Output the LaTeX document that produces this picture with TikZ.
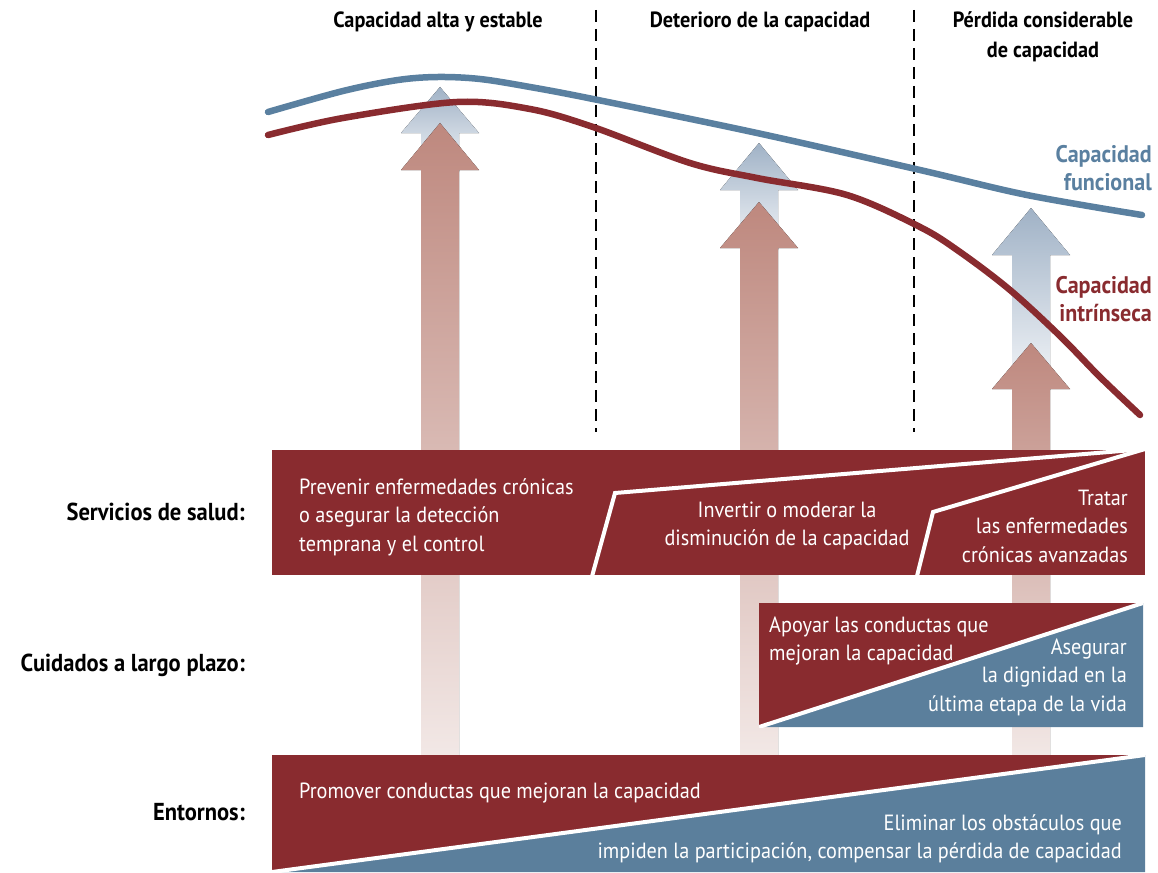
\documentclass[tikz,border=0pt]{standalone}
\usepackage{fontspec}
\setmainfont[FakeStretch=0.92]{PT Sans}
\begin{document}
\begin{tikzpicture}[x=1pt,y=1pt,
  bandtxt/.style={text=white,inner sep=0pt,font=\fontsize{22}{28.5}\selectfont},
  hdr/.style={text=black,inner sep=0pt,font=\bfseries\fontsize{22}{30}\selectfont,align=center},
  lbl/.style={text=black,inner sep=0pt,anchor=east,font=\bfseries\fontsize{24.5}{28}\selectfont},
  curvelbl/.style={inner sep=0pt,anchor=east,align=right,font=\bfseries\fontsize{24}{27.5}\selectfont},
  divider/.style={draw=white,line width=4pt},
  curve/.style={line width=6.5pt,line cap=round},
  phase/.style={dash pattern=on 12pt off 7pt,line width=1.4pt}]
\definecolor{dred}{RGB}{137,43,47}
\definecolor{dblue}{RGB}{91,127,156}
\definecolor{cblue}{RGB}{90,128,160}
\definecolor{ahred}{RGB}{190,136,126}
\definecolor{ahredmid}{RGB}{204,160,152}
\definecolor{ahredlight}{RGB}{242,232,230}
\definecolor{ahblue}{RGB}{160,178,198}
\definecolor{ahbluelight}{RGB}{244,246,249}
\useasboundingbox (0,0) rectangle (1158,-872);

% phase separators
\draw[phase] (596,-10) -- (596,-432);
\draw[phase] (914,-10) -- (914,-432);

% headers
\node[hdr] (h1) at (438,-22) {Capacidad alta y estable};
\node[hdr] (h2) at (760,-22) {Deterioro de la capacidad};
\node[hdr] (h3) at (1043,-37) {Pérdida considerable\\de capacidad};

% blue arrows
\fill[top color=ahblue,bottom color=ahbluelight] (421,-172) -- (421,-133) -- (401,-133) -- (440,-87) -- (479,-133) -- (459,-133) -- (459,-172) -- cycle;
\fill[top color=ahblue,bottom color=ahbluelight] (740,-250) -- (740,-190) -- (720,-190) -- (759,-143) -- (798,-190) -- (778,-190) -- (778,-250) -- cycle;
\fill[top color=ahblue,bottom color=ahbluelight] (1012,-390) -- (1012,-255) -- (992,-255) -- (1031,-208) -- (1070,-255) -- (1050,-255) -- (1050,-390) -- cycle;

% red arrows
\fill[top color=ahred,middle color=ahredmid,bottom color=ahredlight] (421,-757) -- (421,-170) -- (401,-170) -- (440,-123) -- (479,-170) -- (459,-170) -- (459,-757) -- cycle;
\fill[top color=ahred,middle color=ahredmid,bottom color=ahredlight] (740,-757) -- (740,-248) -- (720,-248) -- (759,-202) -- (798,-248) -- (778,-248) -- (778,-757) -- cycle;
\fill[top color=ahred,middle color=ahredmid,bottom color=ahredlight] (1012,-757) -- (1012,-389) -- (992,-389) -- (1031,-343) -- (1070,-389) -- (1050,-389) -- (1050,-757) -- cycle;

% curves
\draw[curve,cblue] plot[smooth,tension=0.55] coordinates {(268,-112) (343,-91) (398,-80) (438,-77) (480,-79) (530,-87) (593,-99) (757,-133) (920,-170) (1027,-195) (1142,-215)};
\draw[curve,dred] plot[smooth,tension=0.55] coordinates {(268,-135) (343,-118) (457,-102) (530,-109) (593,-127) (690,-163) (757,-178) (847,-195) (920,-227) (960,-252) (1010,-290) (1060,-336) (1100,-377) (1140,-415)};

\node[curvelbl,text=cblue] (cf) at (1152,-168) {Capacidad\\funcional};
\node[curvelbl,text=dred] (ci) at (1152,-299) {Capacidad\\intrínseca};

% health services band
\fill[dred] (272,-450) rectangle (1145,-575);
\begin{scope}
\clip (272,-450) rectangle (1145,-575);
\draw[divider] (591,-580) -- (615,-493) -- (1145,-449);
\draw[divider] (916,-580) -- (933,-512) -- (1145,-449);
\end{scope}
\node[bandtxt,anchor=west,align=left] (s1) at (299,-517) {Prevenir enfermedades crónicas\\o asegurar la detección\\temprana y el control};
\node[bandtxt,align=center] (s2) at (787,-526) {Invertir o moderar la\\disminución de la capacidad};
\node[bandtxt,anchor=east,align=right] (s3) at (1128,-526) {Tratar\\las enfermedades\\crónicas avanzadas};

% long-term care band
\fill[dred] (759,-603) -- (1143,-603) -- (759,-727) -- cycle;
\fill[dblue] (1143,-603) -- (1143,-727) -- (759,-727) -- cycle;
\begin{scope}
\clip (759,-603) rectangle (1143,-727);
\draw[divider] (759,-727) -- (1143,-603);
\end{scope}
\node[bandtxt,anchor=west,align=left] (c1) at (769,-641) {Apoyar las conductas que\\mejoran la capacidad};
\node[bandtxt,anchor=east,align=right] (c2) at (1127,-677) {Asegurar\\la dignidad en la\\última etapa de la vida};

% environments band
\fill[dred] (272,-755) -- (1145,-755) -- (272,-872) -- cycle;
\fill[dblue] (1145,-755) -- (1145,-872) -- (272,-872) -- cycle;
\begin{scope}
\clip (272,-755) rectangle (1145,-872);
\draw[divider] (272,-872) -- (1145,-755);
\end{scope}
\node[bandtxt,anchor=west] (e1) at (299,-793) {Promover conductas que mejoran la capacidad};
\node[bandtxt,anchor=east,align=right] (e2) at (1122,-839) {Eliminar los obstáculos que\\impiden la participación, compensar la pérdida de capacidad};

% row labels
\node[lbl] (l1) at (245,-512) {Servicios de salud:};
\node[lbl] (l2) at (245,-665) {Cuidados a largo plazo:};
\node[lbl] (l3) at (245,-812) {Entornos:};
\end{tikzpicture}
\end{document}
